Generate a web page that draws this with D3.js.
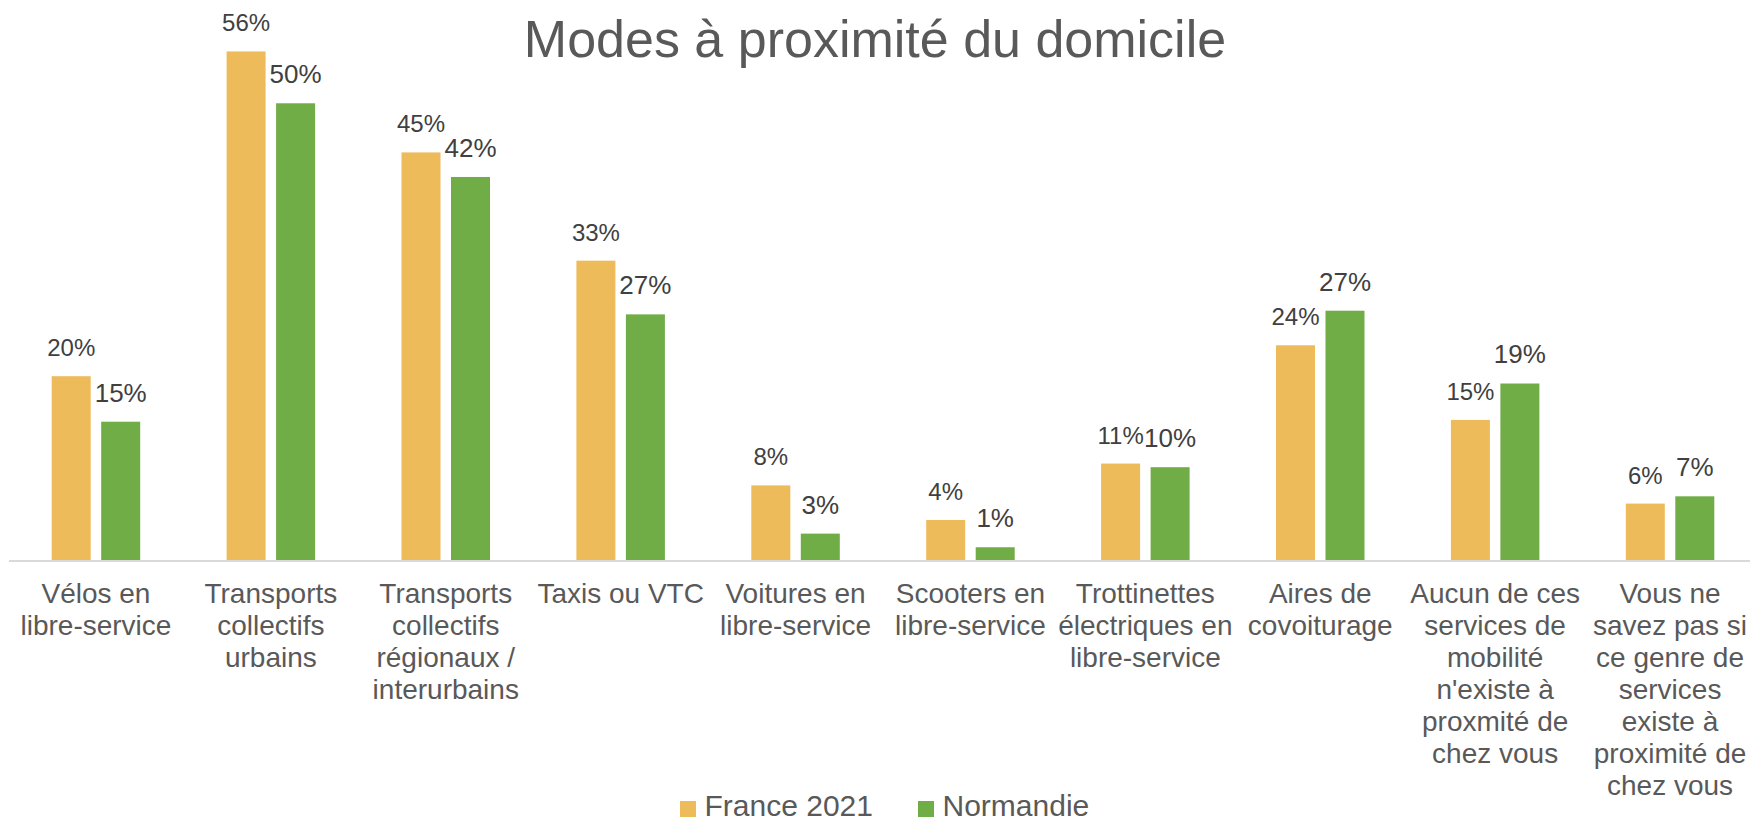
<!DOCTYPE html>
<html>
<head>
<meta charset="utf-8">
<script src="https://cdn.jsdelivr.net/npm/d3@7"></script>
<style>
  body { margin: 0; background: #fff; }
  svg { display: block; }
</style>
</head>
<body>
<svg id="chart" width="1750" height="823"></svg>
<script>
// categories, one array of lines per label
var categories = [
  ["Vélos en", "libre-service"],
  ["Transports", "collectifs", "urbains"],
  ["Transports", "collectifs", "régionaux /", "interurbains"],
  ["Taxis ou VTC"],
  ["Voitures en", "libre-service"],
  ["Scooters en", "libre-service"],
  ["Trottinettes", "électriques en", "libre-service"],
  ["Aires de", "covoiturage"],
  ["Aucun de ces", "services de", "mobilité", "n'existe à", "proxmité de", "chez vous"],
  ["Vous ne", "savez pas si", "ce genre de", "services", "existe à", "proximité de", "chez vous"]
];
var seriesNames = ["France 2021", "Normandie"];
var france = [0.202, 0.559, 0.448, 0.329, 0.082, 0.044, 0.106, 0.236, 0.154, 0.062];
var normandie = [0.152, 0.502, 0.421, 0.270, 0.029, 0.014, 0.102, 0.274, 0.194, 0.070];
var colors = ["#EEBB5B", "#70AD47"];

var svg = d3.select("#chart");
var series = [france, normandie];

var x0 = d3.scaleBand()
  .domain(d3.range(categories.length))
  .range([8.5, 1757.5])
  .paddingInner(0.494)
  .paddingOuter(0.247);

var x1 = d3.scaleBand()
  .domain(d3.range(seriesNames.length))
  .range([0, x0.bandwidth()])
  .paddingInner(0.212);

var y = d3.scaleLinear().domain([0, 0.6]).range([560, 560 - 0.6 * 909.8]);

// title
svg.append("text")
  .attr("x", 875)
  .attr("y", 57)
  .attr("text-anchor", "middle")
  .style("font-family", "'Liberation Sans', Arial, sans-serif")
  .style("font-size", "52px")
  .style("fill", "#595959")
  .text("Modes à proximité du domicile");

// bars
var groups = svg.append("g").selectAll("g")
  .data(categories)
  .join("g")
  .attr("transform", function (d, i) { return "translate(" + x0(i) + ",0)"; });

groups.selectAll("rect")
  .data(function (d, i) { return series.map(function (s, k) { return { k: k, v: s[i] }; }); })
  .join("rect")
  .attr("x", function (d) { return x1(d.k); })
  .attr("y", function (d) { return y(d.v); })
  .attr("width", x1.bandwidth())
  .attr("height", function (d) { return y(0) - y(d.v); })
  .attr("fill", function (d) { return colors[d.k]; });

var fmt = d3.format(".0%");
groups.selectAll("text.lbl")
  .data(function (d, i) { return series.map(function (s, k) { return { k: k, v: s[i] }; }); })
  .join("text")
  .attr("class", "lbl")
  .attr("x", function (d) { return x1(d.k) + x1.bandwidth() / 2; })
  .attr("y", function (d) { return y(d.v) - 20; })
  .attr("text-anchor", "middle")
  .style("font-family", "'Liberation Sans', Arial, sans-serif")
  .style("font-size", function (d) { return d.k == 0 ? "24px" : "26px"; })
  .style("fill", "#404040")
  .text(function (d) { return fmt(d.v); });

// axis line
var axis = svg.append("g")
  .attr("transform", "translate(0," + (y(0) + 0.5) + ")")
  .call(d3.axisBottom(x0).tickSize(0).tickSizeOuter(0).tickFormat(""));
axis.select(".domain").attr("stroke", "#d9d9d9").attr("stroke-width", 2);

// category labels
svg.append("g").selectAll("text")
  .data(categories)
  .join("text")
  .attr("x", function (d, i) { return x0(i) + x0.bandwidth() / 2; })
  .attr("y", 603)
  .attr("text-anchor", "middle")
  .style("font-family", "'Liberation Sans', Arial, sans-serif")
  .style("font-size", "28px")
  .style("fill", "#595959")
  .selectAll("tspan")
  .data(function (d) { return d; })
  .join("tspan")
  .attr("x", function () { return d3.select(this.parentNode).attr("x"); })
  .attr("dy", function (d, j) { return j == 0 ? 0 : 32; })
  .text(function (d) { return d; });

// legend
var legendX = [680, 918];
var legend = svg.append("g").selectAll("g")
  .data(seriesNames)
  .join("g")
  .attr("transform", function (d, i) { return "translate(" + legendX[i] + ",0)"; });
legend.append("rect")
  .attr("y", 801)
  .attr("width", 16)
  .attr("height", 16)
  .attr("fill", function (d, i) { return colors[i]; });
legend.append("text")
  .attr("x", 24.5)
  .attr("y", 816)
  .style("font-family", "'Liberation Sans', Arial, sans-serif")
  .style("font-size", "30px")
  .style("fill", "#595959")
  .text(function (d) { return d; });
</script>
</body>
</html>
